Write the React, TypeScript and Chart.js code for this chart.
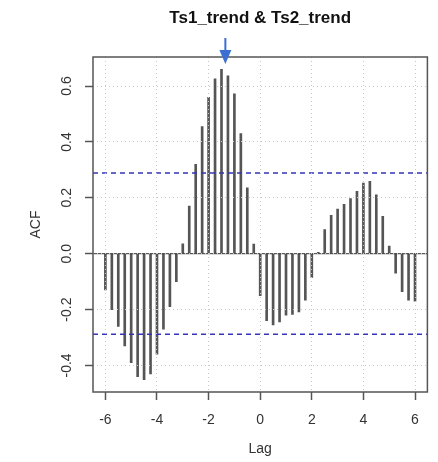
import React, { useEffect, useRef } from "react";
import { Chart, registerables } from "chart.js";

Chart.register(...registerables);

// ---- data ----
const lags = [
  -6, -5.75, -5.5, -5.25, -5, -4.75, -4.5, -4.25, -4, -3.75, -3.5, -3.25,
  -3, -2.75, -2.5, -2.25, -2, -1.75, -1.5, -1.25, -1, -0.75, -0.5, -0.25,
  0, 0.25, 0.5, 0.75, 1, 1.25, 1.5, 1.75, 2, 2.25, 2.5, 2.75, 3, 3.25, 3.5, 3.75,
  4, 4.25, 4.5, 4.75, 5, 5.25, 5.5, 5.75, 6,
];
const acfValues = [
  -0.13, -0.2, -0.26, -0.33, -0.39, -0.44, -0.451, -0.43, -0.36, -0.27, -0.19, -0.1,
  0.035, 0.17, 0.32, 0.455, 0.56, 0.626, 0.66, 0.637, 0.572, 0.43, 0.236, 0.034,
  -0.15, -0.24, -0.255, -0.244, -0.22, -0.217, -0.208, -0.166, -0.085, 0.005, 0.086, 0.137, 0.16, 0.177, 0.197, 0.223,
  0.253, 0.259, 0.211, 0.134, 0.027, -0.07, -0.136, -0.166, -0.17,
];
const ciBound = 0.2887;
const xTickValues = [-6, -4, -2, 0, 2, 4, 6];
const yTickValues = [-0.4, -0.2, 0, 0.2, 0.4, 0.6];
const yTickLabels = ["-0.4", "-0.2", "0.0", "0.2", "0.4", "0.6"];
const xLimits = [-6.48, 6.48];
const yLimits = [-0.495, 0.704];
const titleText = "Ts1_trend & Ts2_trend";
const xTitle = "Lag";
const yTitle = "ACF";
const arrowLag = -1.35;

const FONT = '"Liberation Sans", Arial, Helvetica, sans-serif';

export default function App() {
  const ref = useRef<HTMLCanvasElement>(null);

  useEffect(() => {
    document.body.style.margin = "0";
    const canvas = ref.current!;

    const rPlot = {
      id: "rPlot",
      afterDraw(chart: any) {
        const { ctx, chartArea: a, scales } = chart;
        ctx.save();
        // title
        ctx.fillStyle = "#111";
        ctx.font = `bold 17px ${FONT}`;
        ctx.textAlign = "center";
        ctx.textBaseline = "middle";
        ctx.fillText(titleText, (a.left + a.right) / 2, 18);
        // box
        ctx.strokeStyle = "#555";
        ctx.lineWidth = 1.5;
        ctx.setLineDash([]);
        ctx.strokeRect(a.left, a.top, a.right - a.left, a.bottom - a.top);
        // y tick labels (rotated like R)
        ctx.fillStyle = "#333";
        ctx.font = `14px ${FONT}`;
        yTickValues.forEach((v, i) => {
          const y = scales.y.getPixelForValue(v);
          ctx.save();
          ctx.translate(67, y);
          ctx.rotate(-Math.PI / 2);
          ctx.fillText(yTickLabels[i], 0, 0);
          ctx.restore();
        });
        // arrow marking the peak lag
        const ax = scales.x.getPixelForValue(arrowLag);
        ctx.strokeStyle = "#3b6fd1";
        ctx.fillStyle = "#3b6fd1";
        ctx.lineWidth = 2;
        ctx.beginPath();
        ctx.moveTo(ax, 38);
        ctx.lineTo(ax, 52);
        ctx.stroke();
        ctx.beginPath();
        ctx.moveTo(ax - 6, 50);
        ctx.lineTo(ax + 6, 50);
        ctx.lineTo(ax, 64);
        ctx.closePath();
        ctx.fill();
        ctx.restore();
      },
    };

    const chart = new Chart(canvas, {
      type: "bar",
      data: {
        datasets: [
          {
            type: "line",
            data: [
              { x: xLimits[0], y: ciBound },
              { x: xLimits[1], y: ciBound },
            ],
            borderColor: "#3434b8",
            borderWidth: 1.5,
            borderDash: [5, 4],
            pointRadius: 0,
          },
          {
            type: "line",
            data: [
              { x: xLimits[0], y: -ciBound },
              { x: xLimits[1], y: -ciBound },
            ],
            borderColor: "#3434b8",
            borderWidth: 1.5,
            borderDash: [5, 4],
            pointRadius: 0,
          },
          {
            type: "line",
            data: [
              { x: xLimits[0], y: 0 },
              { x: xLimits[1], y: 0 },
            ],
            borderColor: "#333",
            borderWidth: 1,
            pointRadius: 0,
          },
          {
            type: "bar",
            data: lags.map((l, i) => ({ x: l, y: acfValues[i] })),
            backgroundColor: "#555",
            borderWidth: 0,
            barThickness: 2,
          } as any,
        ],
      },
      options: {
        responsive: false,
        animation: false,
        devicePixelRatio: 1,
        layout: { padding: { left: 0, right: 10.6, top: 57, bottom: 0 } },
        plugins: {
          legend: { display: false },
          tooltip: { enabled: false },
          title: { display: false },
        },
        scales: {
          x: {
            type: "linear",
            min: xLimits[0],
            max: xLimits[1],
            offset: false,
            afterBuildTicks: (s: any) => {
              s.ticks = xTickValues.map((v) => ({ value: v }));
            },
            afterFit: (s: any) => {
              s.height = 70;
            },
            grid: {
              color: "#c8c8c8",
              lineWidth: 1,
              z: 1,
              offset: false,
              tickLength: 8,
              tickColor: "#555",
              tickWidth: 1.5,
            },
            border: { display: false, dash: [1, 3] },
            ticks: {
              font: { family: FONT, size: 14 },
              color: "#333",
              padding: 11.5,
              maxRotation: 0,
              autoSkip: false,
              callback: (v: any) => String(v),
            },
            title: {
              display: true,
              text: xTitle,
              font: { family: FONT, size: 14 },
              color: "#333",
              padding: { top: 0, bottom: 4 },
            },
          },
          y: {
            type: "linear",
            min: yLimits[0],
            max: yLimits[1],
            afterBuildTicks: (s: any) => {
              s.ticks = yTickValues.map((v) => ({ value: v }));
            },
            afterFit: (s: any) => {
              s.width = 93;
            },
            grid: {
              color: "#c8c8c8",
              lineWidth: 1,
              z: 1,
              tickLength: 8,
              tickColor: "#555",
              tickWidth: 1.5,
            },
            border: { display: false, dash: [1, 3] },
            ticks: { display: false },
            title: {
              display: true,
              text: yTitle,
              font: { family: FONT, size: 14 },
              color: "#333",
              padding: { top: 28, bottom: 0 },
            },
          },
        },
      } as any,
      plugins: [rPlot],
    });
    return () => chart.destroy();
  }, []);

  return (
    <div style={{ width: 438, height: 462 }}>
      <canvas ref={ref} width={438} height={462} style={{ display: "block" }} />
    </div>
  );
}
